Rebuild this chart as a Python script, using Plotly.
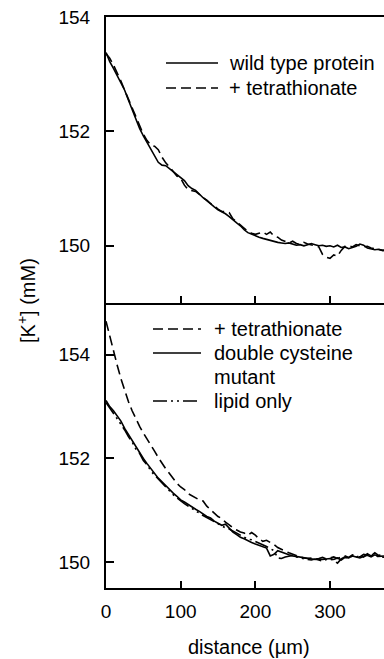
import plotly.graph_objects as go

# distance (µm)
distance = list(range(0, 380, 5))

# top panel
wild_type = [153.38, 153.22, 153.10, 152.98, 152.86, 152.72, 152.55, 152.38, 152.22, 152.05,
             151.92, 151.80, 151.69, 151.58, 151.46, 151.41, 151.40, 151.35, 151.30, 151.24,
             151.20, 151.14, 151.05, 151.00, 150.97, 150.90, 150.84, 150.79, 150.73, 150.68,
             150.63, 150.60, 150.56, 150.51, 150.45, 150.40, 150.35, 150.28, 150.23, 150.20,
             150.18, 150.15, 150.13, 150.11, 150.09, 150.08, 150.06, 150.05, 150.04, 150.05,
             150.03, 150.01, 150.02, 150.00, 150.02, 150.04, 150.02, 150.00, 150.01, 149.99,
             150.00, 149.98, 150.01, 149.97, 149.98, 149.95, 149.97, 149.99, 150.03, 150.01,
             149.96, 149.95, 149.93, 149.94, 149.92, 149.92]
wt_tetrathionate = [153.36, 153.28, 153.16, 153.03, 152.88, 152.72, 152.56, 152.40, 152.24, 152.08,
                    151.95, 151.84, 151.76, 151.74, 151.68, 151.55, 151.45, 151.38, 151.30, 151.22,
                    151.18, 151.06, 150.98, 150.96, 150.95, 150.90, 150.84, 150.80, 150.74, 150.70,
                    150.64, 150.60, 150.60, 150.58, 150.47, 150.42, 150.36, 150.30, 150.25, 150.22,
                    150.20, 150.22, 150.24, 150.20, 150.24, 150.17, 150.15, 150.10, 150.07, 150.05,
                    150.08, 150.04, 150.02, 150.06, 150.03, 150.02, 150.00, 149.98, 149.85, 149.80,
                    149.78, 149.84, 149.82, 149.92, 149.99, 150.00, 149.98, 150.02, 150.00, 149.98,
                    149.99, 149.96, 149.95, 149.93, 149.92, 149.92]

# bottom panel
mut_tetrathionate = [154.65, 154.35, 154.08, 153.80, 153.54, 153.30, 153.10, 152.92, 152.76, 152.62,
                     152.49, 152.38, 152.25, 152.14, 152.02, 151.90, 151.80, 151.71, 151.61, 151.52,
                     151.45, 151.40, 151.32, 151.28, 151.23, 151.20, 151.18, 151.08, 151.01, 150.95,
                     150.88, 150.84, 150.77, 150.72, 150.66, 150.62, 150.58, 150.56, 150.52, 150.57,
                     150.52, 150.45, 150.40, 150.42, 150.38, 150.34, 150.28, 150.24, 150.21, 150.18,
                     150.15, 150.12, 150.10, 150.08, 150.07, 150.08, 150.06, 150.07, 150.09, 150.06,
                     150.08, 150.10, 150.07, 150.10, 150.12, 150.09, 150.14, 150.12, 150.10, 150.15,
                     150.14, 150.12, 150.18, 150.13, 150.14, 150.15]
double_cys = [153.12, 153.00, 152.92, 152.82, 152.72, 152.58, 152.46, 152.34, 152.22, 152.12,
              152.00, 151.90, 151.80, 151.71, 151.62, 151.55, 151.47, 151.40, 151.33, 151.27,
              151.20, 151.16, 151.11, 151.06, 151.02, 150.98, 150.93, 150.88, 150.85, 150.79,
              150.75, 150.71, 150.73, 150.65, 150.58, 150.53, 150.48, 150.45, 150.41, 150.38,
              150.35, 150.32, 150.29, 150.27, 150.12, 150.15, 150.22, 150.19, 150.16, 150.14,
              150.12, 150.11, 150.09, 150.08, 150.07, 150.06, 150.05, 150.06, 150.05, 150.06,
              150.07, 150.05, 150.08, 150.04, 150.09, 150.08, 150.12, 150.10, 150.08, 150.11,
              150.13, 150.10, 150.14, 150.11, 150.12, 150.12]
lipid_only = [153.08, 152.98, 152.88, 152.78, 152.66, 152.55, 152.42, 152.32, 152.18, 152.10,
              151.96, 151.88, 151.76, 151.68, 151.60, 151.52, 151.44, 151.38, 151.30, 151.24,
              151.18, 151.13, 151.08, 151.04, 150.98, 150.95, 150.90, 150.86, 150.82, 150.78,
              150.74, 150.70, 150.66, 150.64, 150.60, 150.56, 150.52, 150.48, 150.44, 150.43,
              150.40, 150.36, 150.33, 150.30, 150.26, 150.22, 150.08, 150.07, 150.10, 150.12,
              150.13, 150.10, 150.08, 150.07, 150.05, 150.04, 150.06, 150.04, 150.02, 150.05,
              150.06, 150.03, 149.98, 150.06, 150.10, 150.08, 150.12, 150.09, 150.14, 150.10,
              150.16, 150.12, 150.15, 150.10, 150.09, 150.09]

x_ticks = [0, 100, 200, 300]
y_ticks = [150, 152, 154]

FONT = "Arial, 'Liberation Sans', sans-serif"
TICK_SIZE = 19
TEXT_SIZE = 20
W, H = 384, 659
L, R, T, B = 106, 0, 17, 71
PW, PH = W - L - R, H - T - B
SPLIT = (588 - 303) / PH

DASH = "10px,5px"
DASHDOT = "14px,4px,2px,4px,2px,4px"
LW = 1.6

fig = go.Figure()
fig.add_trace(go.Scatter(x=distance, y=wild_type, mode="lines", name="wild type protein",
                         line=dict(color="black", width=LW), xaxis="x", yaxis="y"))
fig.add_trace(go.Scatter(x=distance, y=wt_tetrathionate, mode="lines", name="+ tetrathionate",
                         line=dict(color="black", width=LW, dash=DASH), xaxis="x", yaxis="y"))
fig.add_trace(go.Scatter(x=distance, y=lipid_only, mode="lines", name="lipid only",
                         line=dict(color="black", width=LW, dash=DASHDOT), xaxis="x2", yaxis="y2"))
fig.add_trace(go.Scatter(x=distance, y=double_cys, mode="lines", name="double cysteine mutant",
                         line=dict(color="black", width=LW), xaxis="x2", yaxis="y2"))
fig.add_trace(go.Scatter(x=distance, y=mut_tetrathionate, mode="lines", name="+ tetrathionate",
                         line=dict(color="black", width=LW, dash=DASH), xaxis="x2", yaxis="y2"))

xrange = [0, PW / 0.7467]
common_x = dict(range=xrange, tickvals=x_ticks, ticks="inside", ticklen=7, tickwidth=1.5,
                tickcolor="black", showline=True, linecolor="black", linewidth=2,
                showgrid=False, zeroline=False,
                tickfont=dict(family=FONT, size=TICK_SIZE, color="black"))
common_y = dict(tickvals=y_ticks, ticks="inside", ticklen=8, tickwidth=1.5, tickcolor="black",
                showline=True, linecolor="black", linewidth=2, showgrid=False, zeroline=False,
                tickfont=dict(family=FONT, size=TICK_SIZE, color="black"), ticklabelstandoff=10)

fig.update_layout(
    width=W, height=H,
    margin=dict(l=L, r=R, t=T, b=B),
    paper_bgcolor="white", plot_bgcolor="white",
    showlegend=False,
    xaxis=dict(common_x, anchor="y", mirror=True, showticklabels=False),
    yaxis=dict(common_y, domain=[SPLIT, 1], range=[149, 154], anchor="x"),
    xaxis2=dict(common_x, anchor="y2", mirror=False, ticklabelstandoff=5),
    yaxis2=dict(common_y, domain=[0, SPLIT], range=[149.5, 155], anchor="x2"),
)

def px(xp):
    return (xp - L) / PW

def py(yp):
    return (H - B - yp) / PH

# legend samples
legend_items = [
    (166, 218, 63, "solid", "wild type protein", 227),
    (166, 218, 88, DASH, "+ tetrathionate", 227),
    (153, 201, 329, DASH, "+ tetrathionate", 212),
    (153, 201, 353, "solid", "double cysteine", 212),
    (None, None, 377, None, "mutant", 212),
    (153, 201, 401, DASHDOT, "lipid only", 212),
]
for x0, x1, yy, dash, label, tx in legend_items:
    if x0 is not None:
        fig.add_shape(type="line", xref="paper", yref="paper", x0=px(x0), x1=px(x1),
                      y0=py(yy), y1=py(yy), line=dict(color="black", width=LW, dash=dash))
    fig.add_annotation(xref="paper", yref="paper", x=px(tx), y=py(yy), text=label,
                       showarrow=False, xanchor="left", yanchor="middle",
                       font=dict(family=FONT, size=TEXT_SIZE, color="black"))

fig.add_annotation(xref="paper", yref="paper", x=px(26), y=py(301), text="[K<sup>+</sup>] (mM)",
                   textangle=-90, showarrow=False, xanchor="center", yanchor="middle",
                   font=dict(family=FONT, size=TEXT_SIZE, color="black"))
fig.add_annotation(xref="paper", yref="paper", x=px(249), y=py(647), text="distance (µm)",
                   showarrow=False, xanchor="center", yanchor="middle",
                   font=dict(family=FONT, size=TEXT_SIZE, color="black"))

fig.write_html("out.html")
